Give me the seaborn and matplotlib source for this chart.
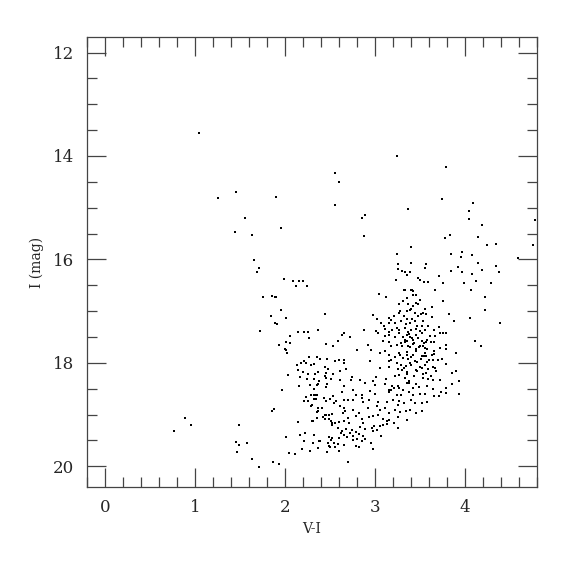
import seaborn as sns
import matplotlib.pyplot as plt
import pandas as pd
from matplotlib.ticker import MultipleLocator

# colour-magnitude diagram: V-I colour vs I magnitude
vi_upper = [1.04, 2.56, 1.46, 1.26, 1.90, 2.56, 1.55, 1.96, 1.44, 1.63, 1.66, 1.71, 1.69, 1.99,
            2.09, 2.15, 2.20, 2.12, 2.24]
i_upper = [13.56, 14.32, 14.69, 14.82, 14.79, 14.95, 15.19, 15.39, 15.47, 15.53, 16.02, 16.17,
           16.25, 16.38, 16.41, 16.42, 16.42, 16.51, 16.51]

vi_bright = [3.24, 2.60, 3.79, 2.85, 2.89, 3.37, 3.74, 4.09, 4.04, 4.04, 4.19, 4.78, 2.88, 3.78,
             3.83, 4.14, 4.24, 4.35, 4.76, 3.40, 3.24, 3.84, 3.97, 3.96, 4.08, 4.59, 3.26, 3.40,
             3.57, 4.14, 3.26, 3.30, 3.33, 3.39, 3.56, 3.36, 3.92, 3.84, 3.97, 4.19, 4.34, 4.38,
             4.08, 3.23, 3.48, 3.50, 3.54, 3.59, 3.71, 3.75, 3.99, 4.12, 4.29, 3.32, 3.33, 3.40,
             3.41, 3.42, 3.67, 4.07, 3.04, 3.12, 3.42, 3.45, 4.22]
i_bright = [14.01, 14.51, 14.21, 15.20, 15.15, 15.02, 14.83, 14.91, 15.06, 15.22, 15.33, 15.24,
            15.55, 15.58, 15.52, 15.57, 15.72, 15.71, 15.73, 15.76, 15.89, 15.90, 15.86, 15.95,
            15.92, 15.98, 16.08, 16.06, 16.08, 16.06, 16.18, 16.22, 16.24, 16.24, 16.16, 16.31,
            16.15, 16.22, 16.25, 16.21, 16.12, 16.24, 16.29, 16.40, 16.35, 16.39, 16.44, 16.44,
            16.33, 16.45, 16.45, 16.42, 16.46, 16.59, 16.60, 16.59, 16.60, 16.61, 16.59, 16.60,
            16.66, 16.73, 16.69, 16.69, 16.73]

vi_blue = [1.75, 1.85, 1.89, 1.90, 1.95, 2.01, 1.84, 1.89, 1.91, 1.72, 1.93, 2.01, 2.00, 2.01,
           1.97, 1.85, 1.88, 0.89, 0.95, 0.77, 1.49, 2.01, 1.45, 1.49, 1.58, 1.47, 1.63, 1.71,
           1.87, 1.93]
i_blue = [16.73, 16.71, 16.73, 16.73, 16.98, 17.13, 17.09, 17.22, 17.25, 17.38, 17.66, 17.60,
          17.73, 17.75, 18.53, 18.93, 18.90, 19.07, 19.20, 19.32, 19.21, 19.44, 19.53, 19.59,
          19.54, 19.73, 19.85, 20.01, 19.92, 19.95]

vi_faint = [2.04, 2.11, 2.14, 2.17, 2.22, 2.21, 2.19, 2.28, 2.32, 2.31, 2.37, 2.38, 2.39, 2.47,
            2.48, 2.49, 2.51, 2.52, 2.49, 2.50, 2.54, 2.29, 2.30, 2.37, 2.41, 2.35, 2.37, 2.42,
            2.44, 2.46, 2.49, 2.52, 2.36, 2.44, 2.49, 2.51, 2.52, 2.52, 2.30, 2.31]
i_faint = [19.74, 19.76, 19.15, 19.39, 19.36, 19.51, 19.67, 19.70, 19.39, 19.55, 19.64, 19.52,
           19.52, 19.73, 19.54, 19.43, 19.49, 19.45, 19.60, 19.63, 19.54, 18.83, 18.81, 18.87,
           18.87, 18.95, 18.94, 19.04, 19.00, 19.01, 19.00, 18.98, 19.06, 19.09, 19.09, 19.12,
           19.16, 19.20, 19.12, 19.13]

vi_mid = [2.05, 2.02, 2.45, 2.53, 2.27, 2.36, 2.39, 2.47, 2.18, 2.21, 2.23, 2.32, 2.29, 2.13,
          2.14, 2.44, 2.48, 2.46, 2.20, 2.03, 2.26, 2.33, 2.37, 2.17, 2.24, 2.32, 2.44, 2.46,
          2.51, 2.53, 2.28, 2.35, 2.15, 2.32, 2.38, 2.37, 2.47, 2.46, 2.29, 2.32, 2.34, 2.35,
          2.32, 2.34, 2.23, 2.21, 2.26, 2.43, 2.46, 2.50, 2.53, 2.54, 2.14, 2.21, 2.25, 2.05,
          2.37, 2.27]
i_mid = [17.61, 17.80, 17.63, 17.67, 17.89, 17.89, 17.92, 17.92, 18.00, 17.96, 18.00, 18.02,
         18.05, 18.05, 18.13, 18.08, 18.11, 18.19, 18.17, 18.23, 18.22, 18.22, 18.18, 18.27,
         18.32, 18.31, 18.25, 18.29, 18.31, 18.22, 18.42, 18.42, 18.45, 18.50, 18.35, 18.40,
         18.41, 18.47, 18.62, 18.63, 18.63, 18.62, 18.69, 18.69, 18.66, 18.74, 18.73, 18.68,
         18.73, 18.69, 18.65, 18.78, 17.40, 17.40, 17.40, 17.49, 17.36, 17.51]

vi_clump = [2.61, 2.73, 2.83, 2.89, 2.98, 3.00, 3.11, 3.19, 3.21, 3.25, 3.27, 3.36, 3.38, 3.42,
            3.49, 3.58, 2.65, 2.63, 2.75, 2.79, 2.86, 2.87, 2.94, 3.00, 3.15, 3.16, 3.18, 3.24,
            3.29, 3.31, 3.38, 3.42, 3.50, 3.56, 2.57, 2.66, 2.70, 2.76, 2.85, 2.93, 3.03, 3.13,
            3.20, 3.25, 3.27, 3.32, 3.40, 3.44, 3.52, 3.58, 2.61, 2.65, 2.67, 2.64, 2.76, 2.82,
            2.92, 3.02, 3.05, 3.11, 3.16, 3.22, 3.28, 3.34, 3.39, 3.46, 3.52, 2.55, 2.60, 2.65,
            2.70, 2.71, 2.79, 2.85, 2.87, 2.93, 2.98, 3.03, 3.09, 3.13, 3.16, 3.21, 3.26, 3.36,
            2.59, 2.63, 2.68, 2.74, 2.79, 2.83, 2.89, 2.97, 2.99, 3.05, 3.09, 3.13, 3.25, 2.62,
            2.66, 2.72, 2.76, 2.82, 2.87, 2.98, 3.02, 2.60, 2.69, 2.75, 2.80, 2.86, 2.89, 3.07,
            2.56, 2.59, 2.65, 2.79, 2.82, 2.96, 2.98, 2.60, 2.70]
i_clump = [18.34, 18.34, 18.34, 18.38, 18.36, 18.42, 18.40, 18.45, 18.49, 18.44, 18.49, 18.39,
           18.38, 18.49, 18.47, 18.44, 18.45, 18.57, 18.52, 18.62, 18.63, 18.76, 18.55, 18.60,
           18.53, 18.57, 18.52, 18.63, 18.62, 18.53, 18.57, 18.62, 18.60, 18.60, 18.74, 18.71,
           18.72, 18.71, 18.68, 18.72, 18.76, 18.76, 18.71, 18.81, 18.73, 18.78, 18.71, 18.78,
           18.78, 18.76, 18.84, 18.87, 18.94, 18.97, 18.91, 18.97, 18.87, 18.83, 18.91, 18.87,
           18.97, 18.91, 18.95, 18.94, 18.91, 18.97, 18.94, 19.16, 19.15, 19.13, 19.07, 19.16,
           19.03, 19.09, 19.16, 19.05, 19.02, 19.00, 19.09, 19.13, 19.10, 19.16, 19.05, 19.11,
           19.26, 19.31, 19.28, 19.29, 19.33, 19.24, 19.28, 19.26, 19.23, 19.23, 19.20, 19.18,
           19.26, 19.36, 19.39, 19.36, 19.41, 19.37, 19.42, 19.31, 19.29, 19.45, 19.44, 19.49,
           19.47, 19.52, 19.47, 19.41, 19.62, 19.56, 19.58, 19.60, 19.62, 19.55, 19.67, 19.71,
           19.91]

vi_column = [3.31, 3.27, 3.37, 3.42, 3.48, 2.44, 2.98, 3.02, 3.07, 3.15, 3.18, 3.21, 3.27, 3.32,
             3.36, 3.39, 3.44, 3.48, 3.10, 3.16, 3.22, 3.29, 3.35, 3.39, 3.44, 2.66, 2.63, 2.88,
             3.01, 3.03, 3.11, 3.15, 3.19, 3.24, 3.27, 3.33, 3.37, 3.40, 3.46, 2.72, 2.59, 3.11,
             3.16, 3.22, 3.27, 3.31, 3.35, 3.39, 3.42, 3.48, 2.92, 2.96, 2.80, 3.09, 3.15, 3.18,
             3.24, 3.29, 3.33, 3.37, 3.42, 3.05, 3.11, 3.16, 3.22, 3.27, 3.31, 3.35, 3.40, 3.46,
             2.56, 2.60, 2.65, 2.66, 2.94, 3.15, 3.18, 3.24, 3.29, 3.34, 3.39, 3.44, 2.61, 2.68,
             3.05, 3.16, 3.25, 3.30, 3.35, 3.46, 2.74, 3.01, 3.12, 3.22, 3.27, 3.33]
i_column = [16.81, 16.87, 16.87, 16.91, 16.86, 17.05, 17.07, 17.15, 17.23, 17.13, 17.17, 17.09,
            17.04, 17.09, 17.00, 16.97, 17.04, 17.09, 17.29, 17.22, 17.23, 17.20, 17.15, 17.23,
            17.20, 17.42, 17.46, 17.37, 17.39, 17.42, 17.35, 17.41, 17.36, 17.33, 17.37, 17.33,
            17.41, 17.36, 17.35, 17.50, 17.58, 17.49, 17.47, 17.50, 17.42, 17.50, 17.46, 17.50,
            17.55, 17.52, 17.65, 17.75, 17.76, 17.58, 17.60, 17.68, 17.65, 17.62, 17.60, 17.68,
            17.63, 17.81, 17.78, 17.84, 17.88, 17.81, 17.91, 17.84, 17.89, 17.78, 17.97, 17.94,
            17.95, 18.00, 17.97, 17.97, 17.94, 18.00, 18.04, 18.06, 18.00, 17.97, 18.15, 18.12,
            18.10, 18.08, 18.12, 18.13, 18.21, 18.13, 18.27, 18.28, 18.31, 18.26, 18.23, 18.29]

# dense knot of the red clump column
vi_core = [3.38, 3.41, 3.36, 3.43, 3.39, 3.45, 3.35, 3.42, 3.37, 3.47, 3.40, 3.33, 3.46, 3.52,
           3.49, 3.55, 3.51, 3.47, 3.43, 3.38, 3.55, 3.58, 3.34, 3.41, 3.47, 3.53, 3.30, 3.28,
           3.36, 3.53, 3.45, 3.32, 3.60, 3.62, 3.40, 3.45, 3.35, 3.50, 3.55, 3.28]
i_core = [17.45, 17.52, 17.58, 17.62, 17.70, 17.74, 17.79, 17.85, 17.93, 17.98, 18.05, 17.55,
          17.47, 17.58, 17.69, 17.80, 17.92, 18.15, 18.25, 18.35, 18.05, 17.55, 17.25, 17.15,
          17.28, 17.20, 17.68, 17.85, 18.18, 18.30, 18.40, 18.10, 17.95, 18.25, 16.95, 16.85,
          16.75, 16.78, 16.95, 17.00]

vi_red = [3.76, 3.63, 4.22, 3.51, 3.53, 3.57, 3.63, 3.82, 4.05, 3.88, 4.39, 3.52, 3.56, 3.59,
          3.65, 3.71, 3.72, 3.75, 3.79, 3.50, 3.52, 3.61, 3.67, 4.11, 4.18, 3.54, 3.57, 3.62,
          3.66, 3.79, 3.50, 3.53, 3.55, 3.58, 3.65, 3.72, 3.79, 3.90, 3.52, 3.54, 3.57, 3.63,
          3.66, 3.64, 3.70, 3.74, 3.58, 3.79, 3.50, 3.52, 3.59, 3.64, 3.67, 3.68, 3.86, 3.90,
          3.53, 3.57, 3.59, 3.64, 3.72, 3.85, 3.93, 3.64, 3.79, 3.73, 3.79, 3.66, 3.71, 3.93]
i_red = [16.80, 16.92, 16.98, 17.05, 17.04, 17.06, 17.11, 17.06, 17.13, 17.20, 17.22, 17.29,
         17.37, 17.28, 17.37, 17.31, 17.42, 17.42, 17.42, 17.39, 17.42, 17.49, 17.48, 17.58,
         17.67, 17.62, 17.60, 17.59, 17.60, 17.65, 17.68, 17.67, 17.71, 17.73, 17.78, 17.71,
         17.73, 17.81, 17.86, 17.87, 17.86, 17.84, 17.82, 17.94, 17.95, 17.93, 17.99, 18.02,
         18.08, 18.10, 18.12, 18.08, 18.10, 18.15, 18.20, 18.15, 18.22, 18.20, 18.31, 18.33,
         18.33, 18.40, 18.36, 18.51, 18.49, 18.57, 18.58, 18.65, 18.65, 18.60]

stars = pd.DataFrame({
    "V-I": (vi_upper + vi_bright + vi_blue + vi_faint + vi_mid + vi_clump + vi_column
            + vi_core + vi_red),
    "I": (i_upper + i_bright + i_blue + i_faint + i_mid + i_clump + i_column
          + i_core + i_red),
})

sns.set_style("ticks")
plt.rcParams["font.family"] = ["DejaVu Serif"]

fig = plt.figure(figsize=(5.75, 5.75), dpi=100)
ax = fig.add_axes([87 / 575, 88 / 575, 450 / 575, 450 / 575])

sns.scatterplot(data=stars, x="V-I", y="I", ax=ax, marker="s", s=3,
                color="black", linewidth=0, legend=False)

ax.set_xlim(-0.2, 4.8)
ax.set_ylim(20.4, 11.7)
ax.xaxis.set_major_locator(MultipleLocator(1))
ax.xaxis.set_minor_locator(MultipleLocator(0.2))
ax.yaxis.set_major_locator(MultipleLocator(2))
ax.yaxis.set_minor_locator(MultipleLocator(0.5))

for sp in ax.spines.values():
    sp.set_visible(True)
    sp.set_color("#444444")
    sp.set_linewidth(0.9)
ax.tick_params(which="both", direction="in", top=True, right=True,
               color="#444444", width=0.9, labelsize=12)
ax.tick_params(which="major", length=13.5, pad=9)
ax.tick_params(which="minor", length=7)

ax.set_xlabel("V-I", fontsize=10, labelpad=4)
ax.set_ylabel("I (mag)", fontsize=10, labelpad=7)

fig.savefig("out.png", dpi=100)
